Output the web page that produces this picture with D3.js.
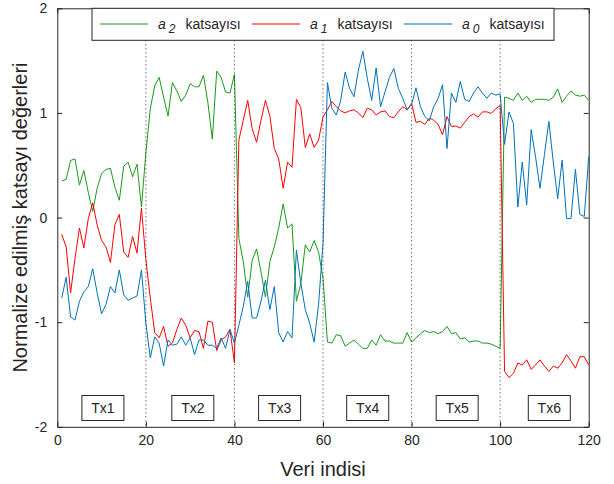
<!DOCTYPE html>
<html>
<head>
<meta charset="utf-8">
<script src="https://cdn.jsdelivr.net/npm/d3@7"></script>
<style>
  body { margin: 0; background: #fff; }
  text { font-family: "Liberation Sans", Arial, sans-serif; fill: #262626; }
</style>
</head>
<body>
<svg id="chart" width="614" height="484"></svg>
<script>
// katsayi verileri, indeks 1..120
var a2 = [0.35, 0.365, 0.546, 0.56, 0.31, 0.45, 0.24, 0.06, 0.28, 0.42, 0.46, 0.47, 0.29, 0.165, 0.49, 0.53, 0.39, 0.51, 0.10, 0.62,
  1.04, 1.26, 1.34, 1.15, 0.97, 1.29, 1.21, 1.11, 1.17, 1.28, 1.25, 1.25, 1.36, 1.10, 0.75, 1.40, 1.34, 1.20, 1.19, 1.37,
  -0.20, -0.42, -0.76, -0.41, -0.30, -0.52, -0.76, -0.42, -0.28, -0.10, 0.13, -0.10, -0.06, -0.80, -0.63, -0.26, -0.33, -0.22, -0.33, -0.58,
  -1.19, -1.20, -1.12, -1.13, -1.23, -1.20, -1.17, -1.21, -1.25, -1.25, -1.17, -1.22, -1.12, -1.18, -1.18, -1.20, -1.20, -1.20, -1.10, -1.19,
  -1.15, -1.11, -1.08, -1.10, -1.09, -1.11, -1.09, -1.04, -1.11, -1.10, -1.16, -1.15, -1.19, -1.18, -1.18, -1.20, -1.20, -1.21, -1.23, -1.25,
  1.15, 1.14, 1.12, 1.19, 1.12, 1.16, 1.10, 1.13, 1.13, 1.13, 1.12, 1.15, 1.23, 1.10, 1.16, 1.21, 1.17, 1.16, 1.17, 1.12];

var a1 = [-0.16, -0.28, -0.72, -0.39, -0.10, -0.29, -0.01, 0.14, -0.07, -0.22, -0.28, -0.43, -0.07, 0.03, -0.33, -0.38, -0.18, -0.34, 0.09, -0.40,
  -0.77, -1.10, -1.15, -1.04, -1.23, -1.20, -1.07, -0.96, -1.03, -1.15, -1.08, -1.09, -1.25, -0.99, -1.00, -1.27, -1.17, -1.14, -1.07, -1.39,
  0.74, 0.93, 1.12, 0.85, 0.72, 0.93, 1.12, 0.97, 0.66, 0.56, 0.28, 0.53, 0.48, 1.13, 1.05, 0.67, 0.80, 0.67, 0.74, 0.96,
  1.03, 1.11, 1.06, 1.02, 1.00, 1.02, 1.03, 1.00, 0.955, 1.045, 1.03, 0.98, 1.01, 1.02, 0.965, 0.955, 1.01, 1.06, 1.03, 1.09,
  0.91, 0.92, 0.89, 0.95, 0.93, 0.89, 0.79, 0.965, 0.87, 0.875, 0.855, 0.91, 0.965, 0.99, 0.96, 1.01, 1.01, 0.995, 1.04, 1.07,
  -1.47, -1.53, -1.49, -1.39, -1.41, -1.36, -1.45, -1.41, -1.36, -1.42, -1.47, -1.42, -1.44, -1.39, -1.31, -1.37, -1.44, -1.33, -1.33, -1.41];

var a0 = [-0.77, -0.57, -0.95, -0.98, -0.80, -0.71, -0.66, -0.49, -0.72, -0.92, -0.83, -0.66, -0.72, -0.50, -0.74, -0.79, -0.77, -0.75, -0.50, -1.01,
  -1.34, -1.14, -1.20, -1.42, -1.17, -1.22, -1.21, -1.14, -1.22, -1.15, -1.31, -1.17, -1.17, -1.22, -1.22, -1.25, -1.15, -1.25, -1.07, -1.20,
  -1.03, -0.85, -0.61, -0.96, -0.96, -0.80, -0.60, -0.88, -0.66, -1.10, -1.19, -1.09, -1.15, -0.31, -0.63, -0.88, -1.01, -1.19, -0.83, -0.25,
  1.29, 1.045, 0.98, 1.12, 1.39, 1.235, 1.155, 1.41, 1.59, 1.33, 1.12, 1.43, 1.06, 1.20, 1.34, 1.425, 1.235, 1.14, 1.03, 1.08,
  1.24, 1.06, 0.965, 0.925, 1.06, 1.14, 1.27, 0.66, 1.19, 1.10, 1.30, 1.13, 1.11, 1.19, 1.25, 1.19, 1.14, 1.19, 1.17, 1.18,
  0.70, 1.01, 0.90, 0.10, 0.53, 0.12, 0.84, 0.58, 0.28, 0.60, 0.92, 0.53, 0.18, 0.55, -0.01, -0.01, 0.46, 0.03, 0.01, 0.58];

var seriesSubs = ['2', '1', '0'];
var seriesColors = ['#1a9a1a', '#ff0000', '#0072bd'];
var bounds = [20, 40, 60, 80, 100];
var segLabels = ['Tx1', 'Tx2', 'Tx3', 'Tx4', 'Tx5', 'Tx6'];
var segCenters = [10.3, 30.6, 50.2, 70.1, 90.3, 111.1];
var xTicks = [0, 20, 40, 60, 80, 100, 120];
var yTicks = [-2, -1, 0, 1, 2];

var svg = d3.select('#chart');
var pL = 57.3, pR = 588.7, pT = 8.3, pB = 426.8;

var x = d3.scaleLinear().domain([0, 120]).range([pL, pR]);
var y = d3.scaleLinear().domain([-2, 2]).range([pB, pT]);

// eksenler (ticks iceri dogru)
function styleAxis(g) {
  g.select('.domain').attr('stroke', '#262626');
  g.selectAll('.tick line').attr('stroke', '#262626');
  g.selectAll('.tick text').style('font-size', '14px').attr('fill', '#262626')
    .style('font-family', '"Liberation Sans", Arial, sans-serif');
}
var plain = function(d) { return String(d); };

svg.append('g').attr('transform', 'translate(0,' + pB + ')')
  .call(d3.axisBottom(x).tickValues(xTicks).tickFormat(plain).tickSizeInner(-5).tickSizeOuter(0).tickPadding(8))
  .call(styleAxis);
svg.append('g').attr('transform', 'translate(0,' + pT + ')')
  .call(d3.axisTop(x).tickValues(xTicks).tickSizeInner(-5).tickSizeOuter(0).tickFormat(''))
  .call(styleAxis);
svg.append('g').attr('transform', 'translate(' + pL + ',0)')
  .call(d3.axisLeft(y).tickValues(yTicks).tickFormat(plain).tickSizeInner(-5).tickSizeOuter(0).tickPadding(10))
  .call(styleAxis);
svg.append('g').attr('transform', 'translate(' + pR + ',0)')
  .call(d3.axisRight(y).tickValues(yTicks).tickSizeInner(-5).tickSizeOuter(0).tickFormat(''))
  .call(styleAxis);

// cizgiler
var line = d3.line()
  .x(function(d, i) { return x(i + 1); })
  .y(function(d) { return y(d); });

[a2, a1, a0].forEach(function(s, k) {
  svg.append('path')
    .datum(s)
    .attr('fill', 'none')
    .attr('stroke', seriesColors[k])
    .attr('stroke-width', 1)
    .attr('d', line);
});

// bolum sinirlari
svg.selectAll('.bound')
  .data(bounds)
  .enter().append('line')
  .attr('x1', function(d) { return x(d); })
  .attr('x2', function(d) { return x(d); })
  .attr('y1', pT)
  .attr('y2', pB)
  .attr('stroke', '#333')
  .attr('stroke-width', 1)
  .attr('stroke-dasharray', '1,3');

// Tx kutulari
var tx = svg.selectAll('.tx')
  .data(segLabels)
  .enter().append('g')
  .attr('transform', function(d, i) { return 'translate(' + x(segCenters[i]) + ',' + y(-1.82) + ')'; });
tx.append('rect')
  .attr('x', -21).attr('y', -12.5)
  .attr('width', 42).attr('height', 25)
  .attr('fill', '#fff')
  .attr('stroke', '#262626');
tx.append('text')
  .attr('text-anchor', 'middle')
  .attr('dy', '0.36em')
  .style('font-size', '14px')
  .text(function(d) { return d; });

// lejant
var legend = svg.append('g');
legend.append('rect')
  .attr('x', 92).attr('y', pT)
  .attr('width', 462).attr('height', 32)
  .attr('fill', '#fff')
  .attr('stroke', '#262626');

var itemX = [100, 252, 404];
seriesSubs.forEach(function(n, k) {
  var g = legend.append('g').attr('transform', 'translate(' + itemX[k] + ',24)');
  g.append('line')
    .attr('x1', 0).attr('x2', 48)
    .attr('stroke', seriesColors[k]);
  var t = g.append('text')
    .attr('x', 58)
    .attr('y', 5)
    .style('font-size', '14px');
  t.append('tspan').style('font-style', 'italic').text('a');
  t.append('tspan').attr('dx', 3).attr('dy', 4).style('font-style', 'italic').style('font-size', '12px').text(n);
  t.append('tspan').attr('dx', 10).attr('dy', -4).text('katsayısı');
});

// eksen basliklari
svg.append('text')
  .attr('x', (pL + pR) / 2)
  .attr('y', 476)
  .attr('text-anchor', 'middle')
  .style('font-size', '20px')
  .text('Veri indisi');

svg.append('text')
  .attr('transform', 'translate(27,' + ((pT + pB) / 2) + ') rotate(-90)')
  .attr('text-anchor', 'middle')
  .style('font-size', '20px')
  .text('Normalize edilmiş katsayı değerleri');
</script>
</body>
</html>
